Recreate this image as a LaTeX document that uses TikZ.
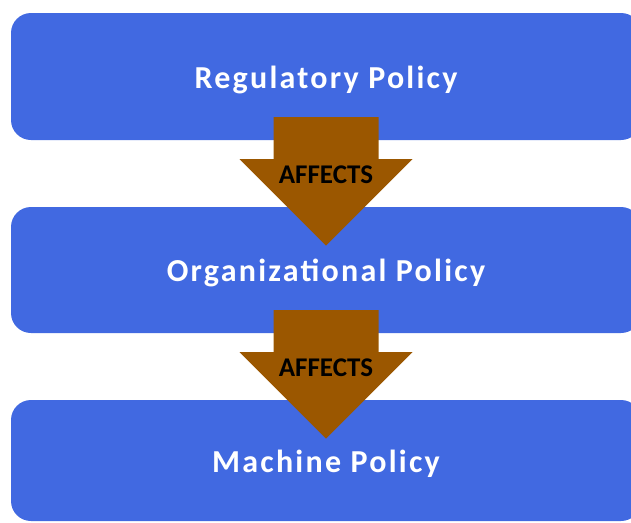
\documentclass[tikz,border=0pt]{standalone}
\usepackage{fontspec}
\setmainfont{Carlito}
\newfontfamily\titlefont[LetterSpace=7,UprightFont={* Bold}]{Carlito}
\usetikzlibrary{positioning}
\definecolor{policyblue}{RGB}{65,105,225}
\definecolor{affectbrown}{RGB}{155,87,0}
\tikzset{
  policy/.style={fill=policyblue,rounded corners=20pt,minimum width=630pt,
    text=white,text height=23pt,text depth=0pt,
    font=\titlefont\fontsize{32}{34}\selectfont},
  affectarrow/.style={fill=affectbrown},
  affectlabel/.style={font=\fontsize{27}{29}\selectfont\bfseries,inner sep=0pt}
}
\newcommand{\affects}[2]{%
  \fill[affectarrow] ([xshift=-52.5pt,yshift=23pt]#1.south) -- ++(105,0) -- ++(0,42)
    -- ++(34,0) -- ([yshift=-105.5pt]#1.south) -- ++(-86.5,-86.5) -- ++(34,0) -- cycle;
  \node[affectlabel] (#2) at ([yshift=-35pt]#1.south) {AFFECTS};}
\begin{document}
\begin{tikzpicture}[x=1pt,y=-1pt]
        \useasboundingbox (0,0) rectangle (631,522);
        \clip (0,0) rectangle (631,522);
        \node[policy,minimum height=127pt] (reg) at (326,76.5) {Regulatory Policy};
        \node[policy,minimum height=126pt] (org) at (326,270) {Organizational Policy};
        \node[policy,minimum height=121pt] (mach) at (326,460.5) {Machine Policy};
        \affects{reg}{aff1}
        \affects{org}{aff2}
    \end{tikzpicture}
\end{document}
